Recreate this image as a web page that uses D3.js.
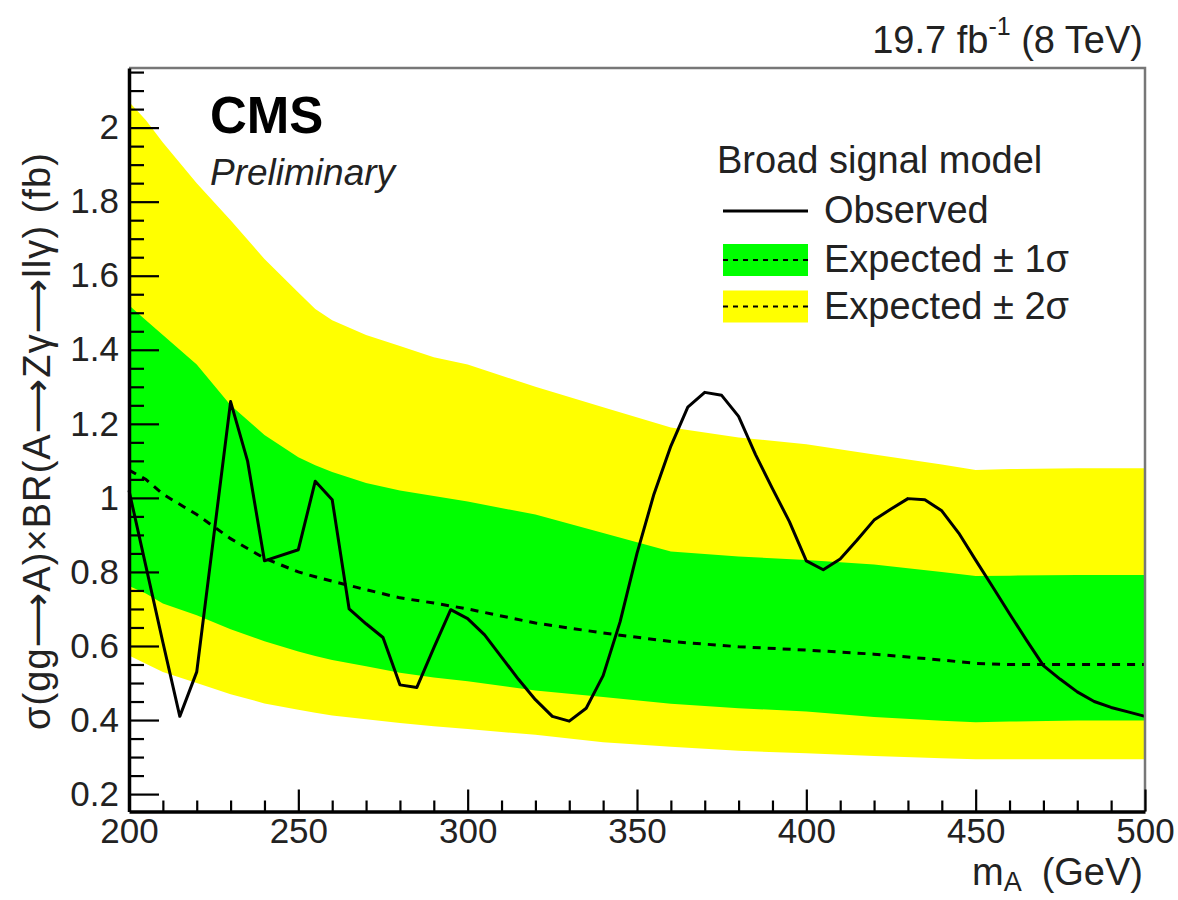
<!DOCTYPE html>
<html>
<head>
<meta charset="utf-8">
<script src="https://cdn.jsdelivr.net/npm/d3@7"></script>
<style>
  body { margin: 0; background: #fff; }
  text { font-family: "Liberation Sans", Arial, Helvetica, sans-serif; }
</style>
</head>
<body>
<div id="zone_graphique"></div>
<script>
// expected limit and bands (GeV, fb)
var massBand = [200, 205, 210, 220, 230, 240, 250, 255, 260, 270, 280, 290, 300, 320, 340, 360, 380, 400, 420, 440, 450, 460, 480, 500];
var expected = [1.075, 1.05, 1.01, 0.955, 0.89, 0.837, 0.80, 0.787, 0.775, 0.752, 0.73, 0.716, 0.70, 0.662, 0.635, 0.612, 0.598, 0.589, 0.578, 0.562, 0.553, 0.55, 0.55, 0.55];
var up1 = [1.52, 1.48, 1.44, 1.36, 1.25, 1.17, 1.11, 1.088, 1.07, 1.04, 1.02, 1.005, 0.99, 0.955, 0.905, 0.855, 0.842, 0.832, 0.82, 0.80, 0.789, 0.79, 0.792, 0.792];
var down1 = [0.762, 0.742, 0.715, 0.683, 0.645, 0.613, 0.585, 0.573, 0.562, 0.545, 0.528, 0.515, 0.505, 0.48, 0.462, 0.444, 0.432, 0.423, 0.408, 0.398, 0.394, 0.396, 0.399, 0.399];
var up2 = [2.07, 2.02, 1.96, 1.85, 1.75, 1.645, 1.555, 1.51, 1.48, 1.44, 1.41, 1.38, 1.36, 1.30, 1.245, 1.19, 1.163, 1.145, 1.117, 1.09, 1.075, 1.078, 1.08, 1.08];
var down2 = [0.574, 0.552, 0.53, 0.50, 0.47, 0.445, 0.428, 0.42, 0.412, 0.402, 0.392, 0.383, 0.376, 0.36, 0.34, 0.328, 0.317, 0.31, 0.303, 0.297, 0.294, 0.294, 0.294, 0.294];

// observed limit
var massObs = [200, 205, 210, 215, 220, 230, 235, 240, 250, 255, 260, 265, 270, 275, 280, 285, 290, 295, 300, 305, 310, 315, 320, 325, 330, 335, 340, 345, 350, 355, 360, 365, 370, 375, 380, 385, 390, 395, 400, 405, 410, 415, 420, 425, 430, 435, 440, 445, 450, 455, 460, 465, 470, 475, 480, 485, 490, 495, 500];
var observed = [1.02, 0.815, 0.61, 0.41, 0.53, 1.26, 1.10, 0.83, 0.86, 1.045, 0.995, 0.70, 0.66, 0.623, 0.495, 0.488, 0.595, 0.698, 0.674, 0.63, 0.57, 0.51, 0.455, 0.41, 0.397, 0.432, 0.52, 0.665, 0.85, 1.01, 1.14, 1.245, 1.285, 1.277, 1.22, 1.117, 1.025, 0.936, 0.83, 0.806, 0.835, 0.886, 0.94, 0.97, 0.998, 0.995, 0.965, 0.905, 0.832, 0.76, 0.687, 0.616, 0.547, 0.51, 0.476, 0.45, 0.434, 0.422, 0.41];

// tick labels
var xTicks = [200, 250, 300, 350, 400, 450, 500];
var yTicks = [0.2, 0.4, 0.6, 0.8, 1.0, 1.2, 1.4, 1.6, 1.8, 2.0];

var largeur = 1178, hauteur = 900;
var frame = {gauche: 129, droite: 1145, haut: 68, bas: 811.5};

var svg = d3.select("#zone_graphique")
  .append("svg")
    .attr("width", largeur)
    .attr("height", hauteur);

var x = d3.scaleLinear().domain([200, 500]).range([frame.gauche, frame.droite]);
var y = d3.scaleLinear().domain([0.153, 2.161]).range([frame.bas, frame.haut]);

var band = massBand.map(function(m, i) {
  return {m: m, exp: expected[i], u1: up1[i], d1: down1[i], u2: up2[i], d2: down2[i]};
});
var obs = massObs.map(function(m, i) { return {m: m, v: observed[i]}; });

// bands
svg.append("path").datum(band)
  .attr("fill", "#ffff00")
  .attr("d", d3.area().x(function(d) { return x(d.m); }).y0(function(d) { return y(d.d2); }).y1(function(d) { return y(d.u2); }));
svg.append("path").datum(band)
  .attr("fill", "#00ff00")
  .attr("d", d3.area().x(function(d) { return x(d.m); }).y0(function(d) { return y(d.d1); }).y1(function(d) { return y(d.u1); }));

// expected line
svg.append("path").datum(band)
  .attr("fill", "none")
  .attr("stroke", "#000")
  .attr("stroke-width", 3)
  .attr("stroke-dasharray", "8,7")
  .attr("d", d3.line().x(function(d) { return x(d.m); }).y(function(d) { return y(d.exp); }));

// observed line
svg.append("path").datum(obs)
  .attr("fill", "none")
  .attr("stroke", "#000")
  .attr("stroke-width", 3)
  .attr("stroke-linejoin", "round")
  .attr("d", d3.line().x(function(d) { return x(d.m); }).y(function(d) { return y(d.v); }));

// frame top and right
svg.append("path")
  .attr("d", "M" + frame.gauche + "," + frame.haut + "H" + frame.droite + "V" + frame.bas)
  .attr("fill", "none")
  .attr("stroke", "#777")
  .attr("stroke-width", 2.5);

// axes, ticks pointing inside the frame
var xAxis = svg.append("g")
  .attr("transform", "translate(0," + frame.bas + ")")
  .call(d3.axisBottom(x).tickValues(xTicks).tickSize(-22).tickSizeOuter(0).tickPadding(7).tickFormat(d3.format("d")));
svg.append("g")
  .attr("transform", "translate(0," + frame.bas + ")")
  .call(d3.axisBottom(x).tickValues(d3.range(210, 500, 10).filter(function(v) { return v % 50 != 0; })).tickSize(-11).tickFormat(""))
  .select(".domain").remove();

var yAxis = svg.append("g")
  .attr("transform", "translate(" + frame.gauche + ",0)")
  .call(d3.axisLeft(y).tickValues(yTicks).tickSize(-30).tickSizeOuter(0).tickPadding(10).tickFormat(function(d) { return d3.format("~g")(d); }));
svg.append("g")
  .attr("transform", "translate(" + frame.gauche + ",0)")
  .call(d3.axisLeft(y).tickValues(d3.range(0.25, 2.16, 0.05).filter(function(v) { return Math.abs(v * 5 - Math.round(v * 5)) > 0.01; })).tickSize(-15).tickFormat(""))
  .select(".domain").remove();

svg.selectAll(".domain").attr("stroke", "#000").attr("stroke-width", 3.5);
svg.selectAll(".tick line").attr("stroke", "#000").attr("stroke-width", 2.2);
svg.selectAll(".tick text").attr("fill", "#222").style("font-size", "35px").style("font-family", "'Liberation Sans', Arial, sans-serif");

// axis titles
svg.append("text")
  .attr("x", 1143).attr("y", 885)
  .attr("text-anchor", "end")
  .style("font-size", "38px").attr("fill", "#222")
  .html("m<tspan dy='6' style='font-size:27px'>A</tspan><tspan dy='-6' dx='20'>(GeV)</tspan>");

var arrow = "<tspan style=\"font-family:'DejaVu Sans'\">\u27f6</tspan>";
svg.append("text")
  .attr("transform", "translate(50,441.5) rotate(-90)")
  .attr("text-anchor", "middle")
  .attr("textLength", 577)
  .attr("lengthAdjust", "spacing")
  .style("font-size", "38px").attr("fill", "#222")
  .html("\u03c3(gg" + arrow + "A)\u00d7BR(A" + arrow + "Z\u03b3" + arrow + "ll\u03b3) (fb)");

// labels
svg.append("text")
  .attr("x", 1143).attr("y", 53)
  .attr("text-anchor", "end")
  .style("font-size", "38px").attr("fill", "#222")
  .html("19.7 fb<tspan dy='-18' style='font-size:25px'>-1</tspan><tspan dy='18'> (8 TeV)</tspan>");

svg.append("text")
  .attr("x", 210).attr("y", 133)
  .style("font-size", "51px").style("font-weight", "bold")
  .text("CMS");
svg.append("text")
  .attr("x", 210).attr("y", 185)
  .style("font-size", "37px").style("font-style", "italic").attr("fill", "#222")
  .text("Preliminary");

// legend
var legend = svg.append("g").style("font-size", "38px").attr("fill", "#222");
legend.append("text").attr("x", 717).attr("y", 173).text("Broad signal model");

var entries = [
  {label: "Observed", type: "line", y: 211},
  {label: "Expected \u00b1 1\u03c3", type: "box", color: "#00ff00", y: 260},
  {label: "Expected \u00b1 2\u03c3", type: "box", color: "#ffff00", y: 306.5}
];
entries.forEach(function(e) {
  if (e.type == "box") {
    legend.append("rect")
      .attr("x", 723).attr("y", e.y - 16).attr("width", 85).attr("height", 32)
      .attr("fill", e.color);
    legend.append("line")
      .attr("x1", 723).attr("x2", 808).attr("y1", e.y).attr("y2", e.y)
      .attr("stroke", "#000").attr("stroke-width", 2).attr("stroke-dasharray", "5,5");
  } else {
    legend.append("line")
      .attr("x1", 723).attr("x2", 808).attr("y1", e.y).attr("y2", e.y)
      .attr("stroke", "#000").attr("stroke-width", 3);
  }
  legend.append("text").attr("x", 824).attr("y", e.y + 12).text(e.label);
});
</script>
</body>
</html>
